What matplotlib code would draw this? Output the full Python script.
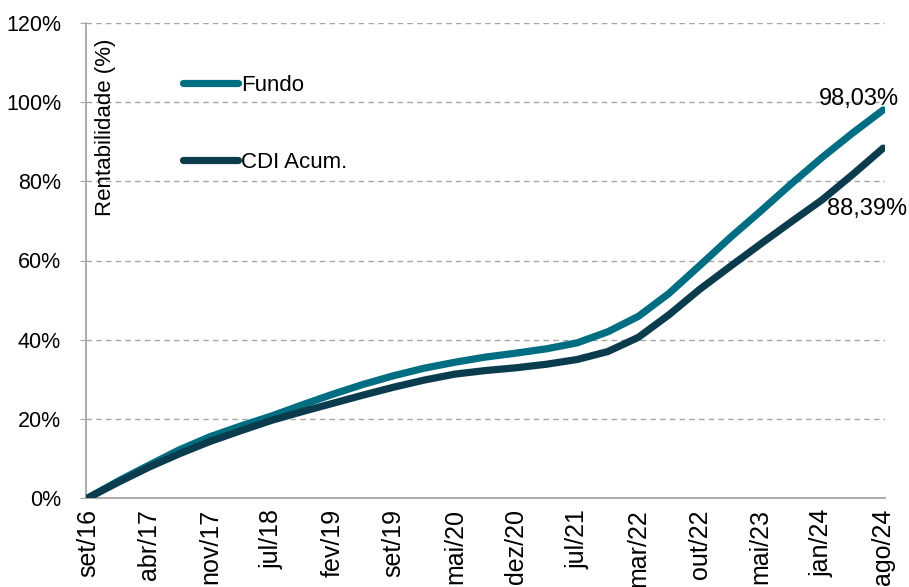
import numpy as np
import matplotlib
matplotlib.use("Agg")
import matplotlib.pyplot as plt
from matplotlib.ticker import PercentFormatter

plt.rcParams["font.family"] = ["Liberation Sans", "DejaVu Sans"]

# tick labels (every label sits on an even sample index)
labels = ["set/16", "abr/17", "nov/17", "jul/18", "fev/19", "set/19", "mai/20",
          "dez/20", "jul/21", "mar/22", "out/22", "mai/23", "jan/24", "ago/24"]

# accumulated return (%), sampled at each label and halfway between labels
fundo = [0, 4.3, 8.3, 12.2, 15.5, 18.2, 20.7, 23.5, 26.2, 28.7, 30.9, 32.8, 34.3,
         35.6, 36.6, 37.7, 39.2, 42.0, 45.9, 51.7, 58.7, 65.8, 72.5, 79.4, 86.0,
         92.2, 98.03]
cdi = [0, 4.0, 7.8, 11.2, 14.3, 17.0, 19.6, 21.8, 23.9, 26.0, 28.0, 29.8, 31.3,
       32.2, 32.9, 33.8, 35.0, 37.0, 40.6, 46.3, 52.7, 58.5, 64.2, 69.8, 75.3,
       81.7, 88.39]

TEAL = "#006E82"
DARK = "#0A3C4E"
GRID = "#A6A6A6"

fig = plt.figure(figsize=(9.09, 5.87), dpi=100)
ax = fig.add_axes([86 / 909, 1 - 498 / 587, (885 - 86) / 909, (498 - 23) / 587])

x = np.arange(len(fundo)) / 2
ax.plot(x, fundo, color=TEAL, lw=5.2, solid_capstyle="round", label="Fundo", zorder=3)
ax.plot(x, cdi, color=DARK, lw=5.2, solid_capstyle="round", label="CDI Acum.", zorder=3)

ax.set_xlim(-0.03, 13.03)
ax.set_ylim(0, 120)
ax.set_yticks(range(0, 121, 20))
ax.yaxis.set_major_formatter(PercentFormatter(decimals=0))
ax.set_xticks(range(len(labels)))
ax.set_xticklabels(labels, rotation=90, va="top", ha="center")

ax.tick_params(axis="y", length=4, color=GRID, pad=14, labelsize=15.5)
ax.tick_params(axis="x", length=0, pad=8, labelsize=18)

ax.grid(axis="y", color=GRID, ls=(0, (4, 3)), lw=1)
ax.set_axisbelow(True)
for s in ["top", "right"]:
    ax.spines[s].set_visible(False)
for s in ["left", "bottom"]:
    ax.spines[s].set_color(GRID)
    ax.spines[s].set_linewidth(1.3)

ax.text(0.024, 0.78, "Rentabilidade (%)", rotation=90, transform=ax.transAxes,
        fontsize=16, ha="center", va="center")

ax.annotate("98,03%", (x[-1], fundo[-1]), xytext=(-24, 11), textcoords="offset pixels",
            ha="center", va="center", fontsize=17)
ax.annotate("88,39%", (x[-1], cdi[-1]), xytext=(-16, -61), textcoords="offset pixels",
            ha="center", va="center", fontsize=17)

ax.legend(loc="upper left", bbox_to_anchor=(183 / 909, 1 - 75 / 587),
          bbox_transform=fig.transFigure, frameon=False, fontsize=16,
          handlelength=2.48, handletextpad=0.12, labelspacing=2.5,
          borderpad=0, borderaxespad=0)

fig.savefig("out.png", dpi=100)
